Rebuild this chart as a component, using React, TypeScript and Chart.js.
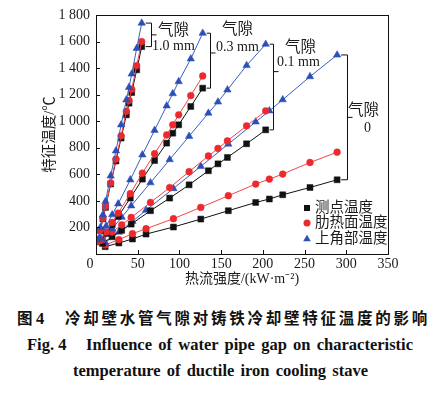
import React, { useEffect, useRef } from 'react';
import { Chart, registerables } from 'chart.js';
Chart.register(...registerables);

// ---- data (heat flux kW/m2, temperature °C) ----
const gap0X = [289, 256.5, 223.8, 207.8, 191.4, 158.6, 125.6, 92.8, 60, 43.7, 27.4, 11];
const gap0Black = [559, 501, 446, 414, 388, 326, 263, 203, 150, 113, 83, 55];
const gap0Red = [767, 689, 602, 564, 527, 439, 351, 266, 190, 153, 108, 68];
const gap0Blue = [1499, 1336, 1162, 1078, 995, 828, 660, 493, 330, 245, 165, 85];

const gap01X = [203.4, 180.5, 157.5, 146.2, 134.7, 111.6, 88.3, 65.3, 42.2, 30.8, 19.3, 7.7];
const gap01Black = [935, 830, 727, 679, 627, 521, 421, 326, 225, 178, 130, 80];
const gap01Red = [1078, 965, 852, 795, 738, 620, 500, 388, 275, 220, 165, 105];
const gap01Blue = [1580, 1420, 1236, 1145, 1061, 887, 711, 537, 363, 277, 190, 105];

const gap03X = [127.9, 113.6, 99.1, 92.0, 84.7, 70.2, 55.6, 41.1, 26.6, 19.4, 12.1, 4.8];
const gap03Black = [1249, 1111, 973, 910, 835, 704, 564, 421, 283, 220, 155, 95];
const gap03Red = [1341, 1193, 1048, 973, 897, 755, 609, 454, 308, 238, 165, 100];
const gap03Blue = [1663, 1470, 1299, 1208, 1116, 932, 747, 559, 378, 296, 210, 120];

const gap10X = [54.8, 48.8, 42.8, 39.6, 36.4, 30.1, 23.9, 17.6, 11.4, 8.3, 5.2, 2.1];
const gap10Black = [1562, 1387, 1216, 1136, 1048, 873, 700, 527, 351, 265, 178, 92];
const gap10Red = [1600, 1419, 1241, 1156, 1075, 890, 715, 534, 358, 270, 180, 95];
const gap10Blue = [1739, 1549, 1356, 1256, 1161, 973, 777, 589, 396, 296, 200, 107];

const gapLabels = ['1.0 mm', '0.3 mm', '0.1 mm', '0'];
const gapWord = '气隙';
const seriesNames = ['测点温度', '肋热面温度', '上角部温度'];
const xTickValues = [0, 50, 100, 150, 200, 250, 300, 350];
const yTickValues = [200, 400, 600, 800, 1000, 1200, 1400, 1600, 1800];

const xTitle = '热流强度/(kW·m⁻²)';
const yTitle = '特征温度/℃';

const BLACK = '#111111';
const RED = '#ec2a2e';
const BLUE = '#2b4fb6';
const RED_LINE = '#f0464a';
const BLUE_LINE = '#3a5fc4';

const SERIF = "'Liberation Serif', 'Noto Sans CJK SC', serif";
const CJK = "'Liberation Serif', 'Noto Sans CJK SC', sans-serif";

const groups = [
  { xs: gap10X, black: gap10Black, red: gap10Red, blue: gap10Blue },
  { xs: gap03X, black: gap03Black, red: gap03Red, blue: gap03Blue },
  { xs: gap01X, black: gap01Black, red: gap01Red, blue: gap01Blue },
  { xs: gap0X, black: gap0Black, red: gap0Red, blue: gap0Blue },
];

// bracket styling per group (pixel offsets)
const bracketStyle = [
  { dx: 9, tickFrac: 0.5, l1: [22, -4], l2: [22, 11] },
  { dx: 7.5, tickFrac: 0.36, l1: [27, -23], l2: [27, -6] },
  { dx: 7, tickFrac: 0.32, l1: [27, -24], l2: [25, -9] },
  { dx: 9.5, tickFrac: 0.5, l1: [16, -6], l2: [20, 11] },
];

const fmt = (v: number) => {
  if (v >= 1000) {
    const s = String(v);
    return s.slice(0, s.length - 3) + ' ' + s.slice(s.length - 3);
  }
  return String(v);
};

const pts = (xs: number[], ys: number[]) => xs.map((x, i) => ({ x, y: ys[i] }));

const decorPlugin = {
  id: 'decor',
  afterDraw(chart: any) {
    const { ctx, chartArea: a, scales } = chart;
    const xs = scales.x;
    const ys = scales.y;
    ctx.save();
    // frame
    ctx.strokeStyle = '#111';
    ctx.lineWidth = 1;
    ctx.strokeRect(Math.round(a.left) + 0.5, Math.round(a.top) + 0.5, Math.round(a.right - a.left), Math.round(a.bottom - a.top));
    // inward ticks
    ctx.beginPath();
    yTickValues.forEach((v) => {
      const py = Math.round(ys.getPixelForValue(v)) + 0.5;
      ctx.moveTo(a.left, py);
      ctx.lineTo(a.left + 4, py);
    });
    xTickValues.forEach((v) => {
      const px = Math.round(xs.getPixelForValue(v)) + 0.5;
      ctx.moveTo(px, a.bottom);
      ctx.lineTo(px, a.bottom - 4);
    });
    ctx.stroke();
    // corner zero
    ctx.fillStyle = '#1a1a1a';
    ctx.font = `14px ${SERIF}`;
    ctx.textAlign = 'center';
    ctx.textBaseline = 'middle';
    ctx.fillText('0', a.left - 6, a.bottom + 10);

    // brackets
    groups.forEach((g, i) => {
      const st = bracketStyle[i];
      const px0 = xs.getPixelForValue(g.xs[0]);
      const bx = Math.round(px0 + st.dx) + 0.5;
      const yt = ys.getPixelForValue(g.blue[0]);
      const yb = ys.getPixelForValue(g.black[0]);
      const ym = yt + (yb - yt) * st.tickFrac;
      ctx.strokeStyle = '#111';
      ctx.lineWidth = 1;
      ctx.beginPath();
      ctx.moveTo(px0 + 4, yt);
      ctx.lineTo(bx, yt);
      ctx.lineTo(bx, yb);
      ctx.lineTo(px0 + 4, yb);
      ctx.moveTo(bx, ym);
      ctx.lineTo(bx + 5, ym);
      ctx.stroke();
      ctx.fillStyle = '#1a1a1a';
      ctx.textAlign = 'center';
      ctx.textBaseline = 'middle';
      ctx.font = `15.5px ${CJK}`;
      ctx.fillText(gapWord, bx + st.l1[0], ym + st.l1[1]);
      ctx.font = `14px ${SERIF}`;
      ctx.fillText(gapLabels[i], bx + st.l2[0], ym + st.l2[1]);
    });

    // legend
    const lx = a.right - 81;
    const rows = [a.bottom - 46, a.bottom - 31, a.bottom - 15];
    ctx.textAlign = 'left';
    ctx.textBaseline = 'middle';
    ctx.font = `14.5px ${CJK}`;
    rows.forEach((ry, i) => {
      if (i === 0) {
        ctx.fillStyle = BLACK;
        ctx.fillRect(lx - 3, ry - 3, 6, 6);
      } else if (i === 1) {
        ctx.fillStyle = RED;
        ctx.beginPath();
        ctx.arc(lx, ry, 3.5, 0, Math.PI * 2);
        ctx.fill();
      } else {
        ctx.fillStyle = BLUE;
        ctx.beginPath();
        ctx.moveTo(lx, ry - 4.3);
        ctx.lineTo(lx + 3.8, ry + 2.3);
        ctx.lineTo(lx - 3.8, ry + 2.3);
        ctx.closePath();
        ctx.fill();
      }
      ctx.fillStyle = '#1a1a1a';
      ctx.fillText(seriesNames[i], lx + 8, ry);
    });
    ctx.restore();
  },
};

export default function App() {
  const ref = useRef<HTMLCanvasElement>(null);
  useEffect(() => {
    const datasets: any[] = [];
    groups.forEach((g) => {
      datasets.push({
        label: seriesNames[2], data: pts(g.xs, g.blue), borderColor: BLUE_LINE, backgroundColor: BLUE,
        pointBackgroundColor: BLUE, pointBorderColor: BLUE, pointStyle: 'triangle', pointRadius: 4.3,
        pointBorderWidth: 0.5, borderWidth: 1, tension: 0,
      });
      datasets.push({
        label: seriesNames[1], data: pts(g.xs, g.red), borderColor: RED_LINE, backgroundColor: RED,
        pointBackgroundColor: RED, pointBorderColor: RED, pointStyle: 'circle', pointRadius: 3.4,
        pointBorderWidth: 0.5, borderWidth: 1, tension: 0,
      });
      datasets.push({
        label: seriesNames[0], data: pts(g.xs, g.black), borderColor: BLACK, backgroundColor: BLACK,
        pointBackgroundColor: BLACK, pointBorderColor: BLACK, pointStyle: 'rect', pointRadius: 4.2,
        pointBorderWidth: 0.5, borderWidth: 1, tension: 0,
      });
    });
    const chart = new Chart(ref.current as HTMLCanvasElement, {
      type: 'line',
      data: { datasets },
      options: {
        responsive: false,
        animation: false,
        devicePixelRatio: 1,
        layout: { padding: { left: 0, right: 54, top: 15, bottom: 0 } },
        plugins: { legend: { display: false }, tooltip: { enabled: false } },
        scales: {
          x: {
            type: 'linear', min: 0, max: 350,
            afterBuildTicks: (s: any) => { s.ticks = xTickValues.map((v) => ({ value: v })); },
            afterFit: (s: any) => { s.height = 36; },
            ticks: {
              autoSkip: false, maxRotation: 0, padding: 2, color: '#1a1a1a',
              font: { family: SERIF, size: 14 },
              callback: (v: any) => (v === 0 ? '' : String(v)),
            },
            grid: { display: false, drawTicks: false },
            border: { display: false },
            title: { display: true, text: xTitle, color: '#1a1a1a', font: { family: CJK, size: 14 }, padding: { top: 0, bottom: 2 } },
          },
          y: {
            type: 'linear', min: 0, max: 1800,
            afterBuildTicks: (s: any) => { s.ticks = yTickValues.map((v) => ({ value: v })); },
            afterFit: (s: any) => { s.width = 96; },
            ticks: {
              autoSkip: false, padding: 6, color: '#1a1a1a',
              font: { family: SERIF, size: 14 },
              callback: (v: any) => fmt(Number(v)),
            },
            grid: { display: false, drawTicks: false },
            border: { display: false },
            title: { display: true, text: yTitle, color: '#1a1a1a', font: { family: CJK, size: 14.5 }, padding: { top: 41, bottom: 0 } },
          },
        },
      } as any,
      plugins: [decorPlugin],
    });
    return () => chart.destroy();
  }, []);

  const cap: React.CSSProperties = { position: 'absolute', whiteSpace: 'nowrap', color: '#111', lineHeight: '20px' };
  return (
    <div style={{ position: 'fixed', left: 0, top: 0, width: 442, height: 394, background: '#fff', overflow: 'hidden' }}>
      <canvas ref={ref} width={442} height={290} style={{ position: 'absolute', left: 0, top: 0 }} />
      <div style={{ ...cap, left: 17, top: 307, fontFamily: "'Noto Sans CJK SC', sans-serif", fontWeight: 700, fontSize: 15.5 }}>
        图 <span style={{ fontFamily: SERIF, fontSize: 16.5 }}>4</span>
      </div>
      <div style={{ ...cap, left: 65, top: 307, fontFamily: "'Noto Sans CJK SC', sans-serif", fontWeight: 700, fontSize: 15.5, letterSpacing: 2.75 }}>
        冷却壁水管气隙对铸铁冷却壁特征温度的影响
      </div>
      <div style={{ ...cap, left: 27, top: 335, fontFamily: SERIF, fontWeight: 700, fontSize: 16.5 }}>Fig. 4</div>
      <div style={{ ...cap, left: 86, top: 335, width: 327, fontFamily: SERIF, fontWeight: 700, fontSize: 16.5, textAlign: 'justify', textAlignLast: 'justify' as any, whiteSpace: 'normal' }}>
        Influence of water pipe gap on characteristic
      </div>
      <div style={{ ...cap, left: 73, top: 361, width: 295, fontFamily: SERIF, fontWeight: 700, fontSize: 16.5, textAlign: 'justify', textAlignLast: 'justify' as any, whiteSpace: 'normal' }}>
        temperature of ductile iron cooling stave
      </div>
    </div>
  );
}
